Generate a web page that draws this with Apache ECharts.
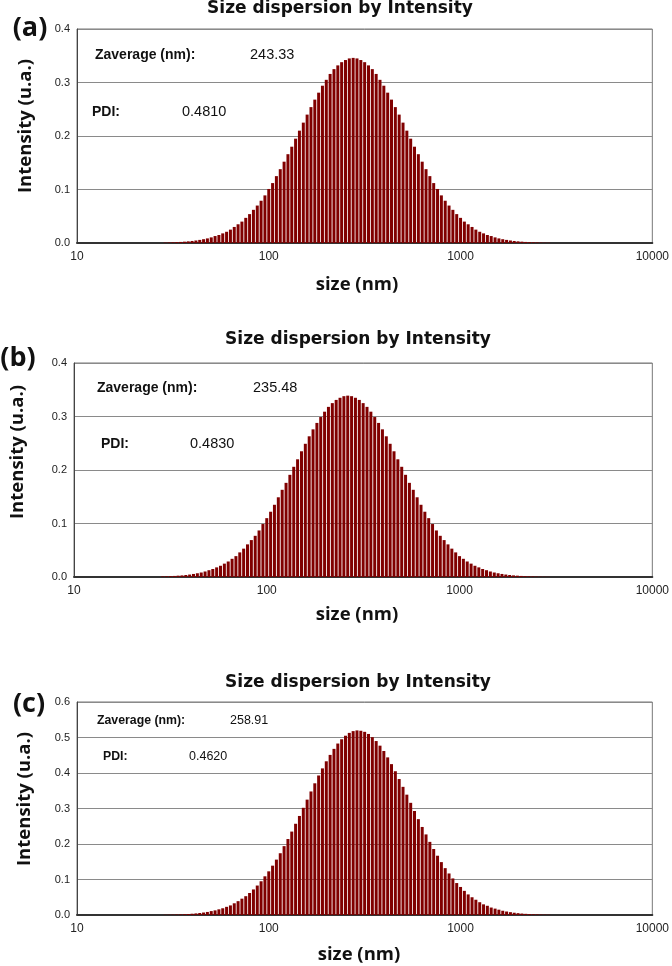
<!DOCTYPE html>
<html>
<head>
<meta charset="utf-8">
<script src="https://cdn.jsdelivr.net/npm/echarts@6/dist/echarts.min.js"></script>
<style>
  html, body { margin: 0; padding: 0; background: #fff; }
  #chart { width: 672px; height: 966px; }
</style>
</head>
<body>
<div id="chart"></div>
<script>
// size classes (nm), log spaced
const sizes = [
  28.84, 30.20, 31.62, 33.11, 34.67, 36.31, 38.02, 39.81, 41.69, 43.65,
  45.71, 47.86, 50.12, 52.48, 54.95, 57.54, 60.26, 63.10, 66.07, 69.18,
  72.44, 75.86, 79.43, 83.18, 87.10, 91.20, 95.50, 100.0, 104.7, 109.6,
  114.8, 120.2, 125.9, 131.8, 138.0, 144.5, 151.4, 158.5, 166.0, 173.8,
  182.0, 190.5, 199.5, 208.9, 218.8, 229.1, 239.9, 251.2, 263.0, 275.4,
  288.4, 302.0, 316.2, 331.1, 346.7, 363.1, 380.2, 398.1, 416.9, 436.5,
  457.1, 478.6, 501.2, 524.8, 549.5, 575.4, 602.6, 631.0, 660.7, 691.8,
  724.4, 758.6, 794.3, 831.8, 871.0, 912.0, 955.0, 1000, 1047, 1096,
  1148, 1202, 1259, 1318, 1380, 1445, 1514, 1585, 1660, 1738,
  1820, 1905, 1995, 2089, 2188, 2291, 2399, 2512, 2630, 2754,
  2884
];

const intensityA = [
  0.0007, 0.0010, 0.0012, 0.0016, 0.0020, 0.0025, 0.0031, 0.0038, 0.0047, 0.0058,
  0.0071, 0.0086, 0.0105, 0.013, 0.015, 0.018, 0.021, 0.025, 0.030, 0.035,
  0.040, 0.047, 0.054, 0.062, 0.070, 0.079, 0.089, 0.101, 0.112, 0.125,
  0.138, 0.152, 0.166, 0.180, 0.195, 0.210, 0.225, 0.240, 0.254, 0.268,
  0.281, 0.294, 0.305, 0.316, 0.325, 0.332, 0.338, 0.342, 0.345, 0.346,
  0.345, 0.342, 0.338, 0.332, 0.325, 0.316, 0.305, 0.294, 0.281, 0.268,
  0.254, 0.240, 0.225, 0.210, 0.195, 0.180, 0.166, 0.152, 0.138, 0.125,
  0.112, 0.101, 0.089, 0.079, 0.070, 0.062, 0.054, 0.047, 0.040, 0.035,
  0.030, 0.025, 0.021, 0.018, 0.015, 0.013, 0.0105, 0.0086, 0.0071, 0.0058,
  0.0047, 0.0038, 0.0031, 0.0025, 0.0020, 0.0016, 0.0012, 0.0010, 0.0007, 0.0005,
  0.0004
];

const intensityB = [
  0.0010, 0.0012, 0.0016, 0.0020, 0.0025, 0.0030, 0.0037, 0.0046, 0.0057, 0.0070,
  0.0084, 0.0103, 0.0127, 0.015, 0.018, 0.021, 0.025, 0.029, 0.034, 0.039,
  0.046, 0.053, 0.061, 0.069, 0.077, 0.087, 0.099, 0.110, 0.122, 0.135,
  0.149, 0.163, 0.176, 0.191, 0.206, 0.220, 0.235, 0.249, 0.263, 0.276,
  0.288, 0.299, 0.309, 0.318, 0.325, 0.331, 0.335, 0.338, 0.339, 0.338,
  0.335, 0.331, 0.325, 0.318, 0.309, 0.299, 0.288, 0.276, 0.263, 0.249,
  0.235, 0.220, 0.206, 0.191, 0.176, 0.163, 0.149, 0.135, 0.122, 0.110,
  0.099, 0.087, 0.077, 0.069, 0.061, 0.053, 0.046, 0.039, 0.034, 0.029,
  0.025, 0.021, 0.018, 0.015, 0.0127, 0.0103, 0.0084, 0.0070, 0.0057, 0.0046,
  0.0037, 0.0030, 0.0025, 0.0020, 0.0016, 0.0012, 0.0010, 0.0007, 0.0005, 0.0004,
  0.0003
];

const intensityC = [
  0.0006, 0.0008, 0.0010, 0.0013, 0.0017, 0.0022, 0.0028, 0.0036, 0.0045, 0.0056,
  0.0070, 0.0086, 0.011, 0.013, 0.016, 0.019, 0.023, 0.027, 0.033, 0.039,
  0.046, 0.053, 0.062, 0.072, 0.083, 0.095, 0.109, 0.123, 0.139, 0.156,
  0.174, 0.194, 0.214, 0.235, 0.257, 0.279, 0.302, 0.325, 0.348, 0.371,
  0.393, 0.413, 0.433, 0.451, 0.468, 0.483, 0.495, 0.505, 0.513, 0.518,
  0.520, 0.519, 0.516, 0.510, 0.501, 0.490, 0.477, 0.462, 0.444, 0.425,
  0.405, 0.383, 0.361, 0.339, 0.316, 0.293, 0.270, 0.248, 0.227, 0.206,
  0.186, 0.167, 0.149, 0.132, 0.117, 0.103, 0.090, 0.079, 0.068, 0.058,
  0.050, 0.043, 0.036, 0.030, 0.026, 0.021, 0.018, 0.015, 0.012, 0.0098,
  0.0080, 0.0064, 0.0052, 0.0041, 0.0033, 0.0026, 0.0020, 0.0016, 0.0012, 0.0009,
  0.0007
];

const panelTags = ["(a)", "(b)", "(c)"];
const zAverages = ["243.33", "235.48", "258.91"];
const pdis = ["0.4810", "0.4830", "0.4620"];
const yMaxes = [0.4, 0.4, 0.6];
const series = [intensityA, intensityB, intensityC];

const TITLE = "Size dispersion by Intensity";
const BAR = "#800000";
const GRID_LINE = "#8a8a8a";
const LABEL_FONT = "'Open Sans', Lato";
const NOTE_FONT = "'Liberation Sans', Arial";

// plot boxes, title centres and label spots for each panel
const layouts = [
  { left: 77, top: 29, width: 579, height: 214, titleX: 340, titleY: 9, tagX: 30, tagY: 28,
    yNameX: 26, yNameY: 126, xNameX: 357, xNameY: 285,
    zx: 95, zy: 55, zvx: 250, px: 92, py: 112, pvx: 182, noteFont: 14, valFont: 14.5 },
  { left: 74, top: 363, width: 579, height: 214, titleX: 358, titleY: 340, tagX: 18, tagY: 358,
    yNameX: 18, yNameY: 452, xNameX: 357, xNameY: 615,
    zx: 97, zy: 388, zvx: 253, px: 101, py: 444, pvx: 190, noteFont: 14, valFont: 14.5 },
  { left: 77, top: 702, width: 580, height: 213, titleX: 358, titleY: 683, tagX: 29, tagY: 704,
    yNameX: 25, yNameY: 799, xNameX: 359, xNameY: 955,
    zx: 97, zy: 721, zvx: 230, px: 103, py: 757, pvx: 189, noteFont: 12.3, valFont: 12.5 }
];

const grids = [], xAxes = [], yAxes = [], seriesList = [], graphics = [];

layouts.forEach((l, i) => {
  grids.push({ left: l.left, top: l.top, width: l.width, height: l.height,
    show: true, borderColor: "#777", borderWidth: 1, backgroundColor: "#fff" });
  xAxes.push({
    type: "log", logBase: 10, min: 10, max: 10000, gridIndex: i,
    axisLine: { show: true, onZero: false, lineStyle: { color: "#333", width: 2 } },
    axisTick: { show: false }, minorTick: { show: false },
    splitLine: { show: false },
    axisLabel: { color: "#222", fontSize: 12, fontFamily: NOTE_FONT, margin: 8,
      formatter: (v) => String(Math.round(v)) }
  });
  yAxes.push({
    type: "value", min: 0, max: yMaxes[i], interval: 0.1, gridIndex: i,
    axisLine: { show: true, lineStyle: { color: "#444", width: 1 } },
    axisTick: { show: false },
    splitLine: { show: true, lineStyle: { color: GRID_LINE, width: 1 } },
    axisLabel: { color: "#222", fontSize: 11, fontFamily: NOTE_FONT, margin: 7,
      formatter: (v) => v.toFixed(1) }
  });
  seriesList.push({
    type: "bar", xAxisIndex: i, yAxisIndex: i, barWidth: 3, barGap: "0%",
    itemStyle: { color: BAR }, silent: true,
    data: sizes.map((s, k) => [s, series[i][k]])
  });

  const textAt = (text, x, y, font, align, extra) => Object.assign({
    type: "text", x, y, silent: true,
    style: { text, font, fill: "#111", align: align || "left", verticalAlign: "middle" }
  }, extra || {});

  graphics.push(textAt(TITLE, l.titleX, l.titleY, "bold 17px 'DejaVu Sans', Verdana", "center"));
  graphics.push(textAt(panelTags[i], l.tagX, l.tagY, `bold 27px ${LABEL_FONT}`, "center"));
  graphics.push(textAt("Intensity (u.a.)", l.yNameX, l.yNameY, `bold 18.5px ${LABEL_FONT}`, "center",
    { rotation: Math.PI / 2 }));
  graphics.push(textAt("size (nm)", l.xNameX, l.xNameY, `bold 18.5px ${LABEL_FONT}`, "center"));
  graphics.push(textAt("Zaverage (nm):", l.zx, l.zy, `bold ${l.noteFont}px ${NOTE_FONT}`));
  graphics.push(textAt(zAverages[i], l.zvx, l.zy, `${l.valFont}px ${NOTE_FONT}`));
  graphics.push(textAt("PDI:", l.px, l.py, `bold ${l.noteFont}px ${NOTE_FONT}`));
  graphics.push(textAt(pdis[i], l.pvx, l.py, `${l.valFont}px ${NOTE_FONT}`));
});

const chart = echarts.init(document.getElementById("chart"), null, { renderer: "canvas" });
chart.setOption({
  animation: false,
  backgroundColor: "#fff",
  grid: grids,
  xAxis: xAxes,
  yAxis: yAxes,
  series: seriesList,
  graphic: graphics
});
</script>
</body>
</html>
